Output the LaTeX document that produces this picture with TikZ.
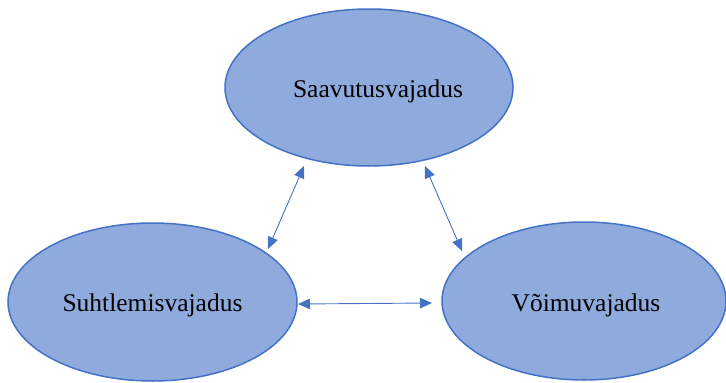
\documentclass[tikz,border=0pt]{standalone}
\usepackage{fontspec}
\setmainfont{Liberation Serif}
\usetikzlibrary{shapes.geometric,arrows.meta}
\definecolor{ellfill}{HTML}{8FAADC}
\definecolor{ellline}{HTML}{4472C4}
\begin{document}
\begin{tikzpicture}[x=1pt,y=-1pt,
  bubble/.style={ellipse, draw=ellline, fill=ellfill, line width=1.5pt, inner sep=0pt},
  lbl/.style={anchor=base, font=\fontsize{25.5pt}{30pt}\selectfont, inner sep=0pt},
  arr/.style={draw=ellline, line width=0.9pt, {Triangle[length=12pt,width=10.5pt]}-{Triangle[length=12pt,width=10.5pt]}}]
\useasboundingbox (0,0) rectangle (726,383);
\node[bubble, minimum width=288pt, minimum height=157pt] (top) at (369,87.5) {};
\node[bubble, minimum width=289pt, minimum height=158pt] (left) at (152.5,302) {};
\node[bubble, minimum width=284pt, minimum height=158pt] (right) at (584,301) {};
\node[lbl] (ttop) at ([xshift=9pt,yshift=-9.5pt]top.center) {Saavutusvajadus};
\node[lbl] (tleft) at ([yshift=-9pt]left.center) {Suhtlemisvajadus};
\node[lbl] (tright) at ([xshift=2pt,yshift=-10pt]right.center) {Võimuvajadus};
\draw[arr] ([shift={(-65pt,-78.5pt)}]top.center) -- ([shift={(115.5pt,53pt)}]left.center);
\draw[arr] ([shift={(56pt,-78.5pt)}]top.center) -- ([shift={(-122pt,50pt)}]right.center);
\draw[arr] ([shift={(145.5pt,-2pt)}]left.center) -- ([shift={(-152pt,-2pt)}]right.center);
\end{tikzpicture}
\end{document}
